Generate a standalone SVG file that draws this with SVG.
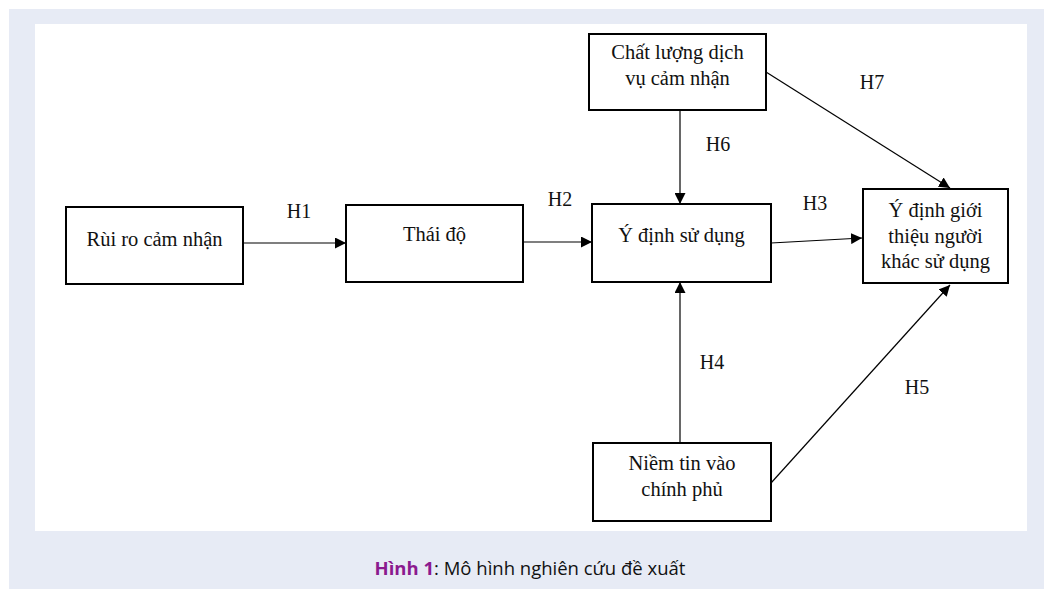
<svg xmlns="http://www.w3.org/2000/svg" width="1044" height="589" viewBox="0 0 1044 589">
<defs>
<style>
.box{fill:#fff;stroke:#000;stroke-width:2}
.t{font-family:"Liberation Serif","Times New Roman",serif;font-size:20.5px;fill:#111;text-anchor:middle}
.lbl{font-family:"Liberation Serif","Times New Roman",serif;font-size:20px;fill:#111;text-anchor:middle}
.ln{stroke:#000;stroke-width:1.2;fill:none;marker-end:url(#ah)}
.cap{font-family:"Open Sans","Noto Sans",sans-serif;font-size:18.5px;fill:#111;text-anchor:middle}
</style>
<marker id="ah" viewBox="0 0 10 10" refX="10" refY="5" markerWidth="11" markerHeight="11" markerUnits="userSpaceOnUse" orient="auto">
<path d="M0,0 L10,5 L0,10 z" fill="#000"/>
</marker>
</defs>
<rect x="9" y="9" width="1035" height="580" fill="#e7ebf5"/>
<rect x="35" y="24" width="992" height="507" fill="#fff"/>
<g id="connectors">
<line class="ln" x1="244" y1="243" x2="346" y2="243"/>
<line class="ln" x1="523" y1="242" x2="592" y2="242"/>
<line class="ln" x1="680" y1="110" x2="680" y2="204"/>
<line class="ln" x1="771" y1="243" x2="862" y2="238"/>
<line class="ln" x1="680" y1="443" x2="680" y2="282"/>
<line class="ln" x1="771" y1="483" x2="950" y2="285"/>
<line class="ln" x1="766" y1="72" x2="950" y2="188"/>
<text class="lbl" x="299" y="218">H1</text>
<text class="lbl" x="560" y="206">H2</text>
<text class="lbl" x="815" y="210">H3</text>
<text class="lbl" x="718" y="151">H6</text>
<text class="lbl" x="872" y="89">H7</text>
<text class="lbl" x="712" y="369">H4</text>
<text class="lbl" x="917" y="394">H5</text>
</g>
<g id="n-ruiro">
<rect class="box" x="66" y="207" width="177" height="77"/>
<text class="t" x="154.5" y="246">Rùi ro cảm nhận</text>
</g>
<g id="n-thaido">
<rect class="box" x="346" y="205" width="177" height="77"/>
<text class="t" x="434.5" y="241">Thái độ</text>
</g>
<g id="n-ydinh">
<rect class="box" x="592" y="204" width="179" height="78"/>
<text class="t" x="681.5" y="242">Ý định sử dụng</text>
</g>
<g id="n-chatluong">
<rect class="box" x="589" y="34" width="177" height="76"/>
<text class="t" x="677.5" y="59">Chất lượng dịch</text>
<text class="t" x="677.5" y="85">vụ cảm nhận</text>
</g>
<g id="n-gioithieu">
<rect class="box" x="863" y="189" width="145" height="94"/>
<text class="t" x="935.5" y="217">Ý định giới</text>
<text class="t" x="935.5" y="243">thiệu người</text>
<text class="t" x="935.5" y="268">khác sử dụng</text>
</g>
<g id="n-niemtin">
<rect class="box" x="593" y="443" width="178" height="78"/>
<text class="t" x="682" y="470">Niềm tin vào</text>
<text class="t" x="682" y="496">chính phủ</text>
</g>
<text class="cap" x="530" y="575"><tspan fill="#8b1a8f" font-weight="bold">Hình 1</tspan>: Mô hình nghiên cứu đề xuất</text>
</svg>
